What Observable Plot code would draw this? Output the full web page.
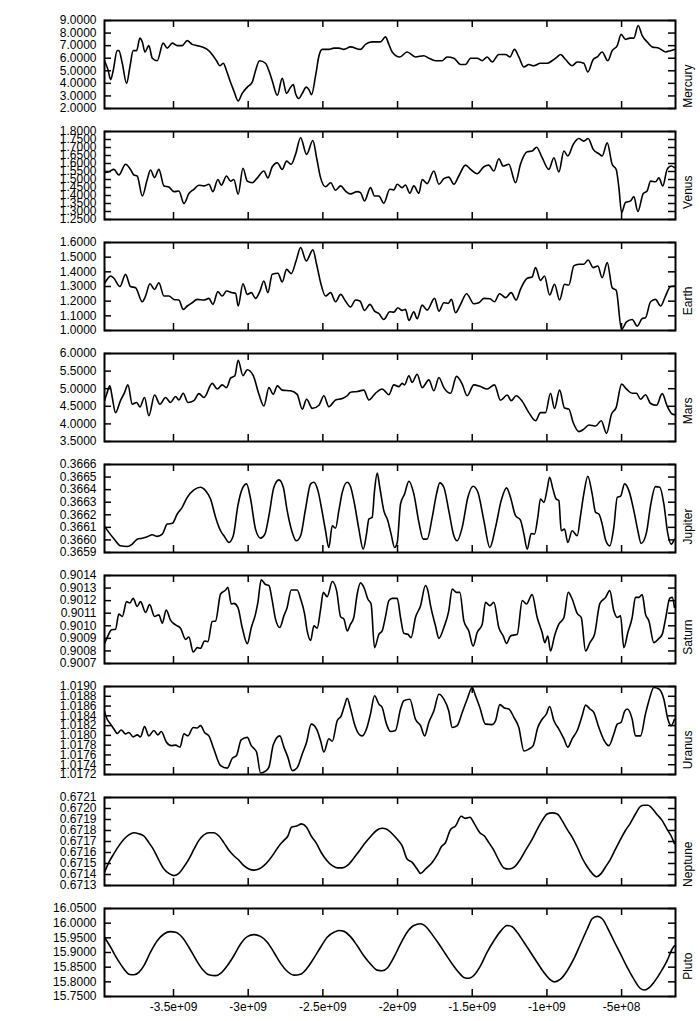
<!DOCTYPE html>
<html><head><meta charset="utf-8">
<script src="https://cdn.jsdelivr.net/npm/d3@7"></script>
<script src="https://cdn.jsdelivr.net/npm/@observablehq/plot@0.6"></script>
<style>body{margin:0;background:#fff}#chart svg{display:block}</style>
</head><body><div id="chart"></div>
<script>
// time in millions of years (negative = past), values per planet
const planetNames = ["Mercury","Venus","Earth","Mars","Jupiter","Saturn","Uranus","Neptune","Pluto"];
const xTickMyr = [-3500,-3000,-2500,-2000,-1500,-1000,-500];
const xDomainMyr = [-3962,-139];

const mercuryTicks = [2,3,4,5,6,7,8,9];
const venusTicks = [1.25,1.3,1.35,1.4,1.45,1.5,1.55,1.6,1.65,1.7,1.75,1.8];
const earthTicks = [1.0,1.1,1.2,1.3,1.4,1.5,1.6];
const marsTicks = [3.5,4.0,4.5,5.0,5.5,6.0];
const jupiterTicks = [0.3659,0.3660,0.3661,0.3662,0.3663,0.3664,0.3665,0.3666];
const saturnTicks = [0.9007,0.9008,0.9009,0.9010,0.9011,0.9012,0.9013,0.9014];
const uranusTicks = [1.0172,1.0174,1.0176,1.0178,1.0180,1.0182,1.0184,1.0186,1.0188,1.0190];
const neptuneTicks = [0.6713,0.6714,0.6715,0.6716,0.6717,0.6718,0.6719,0.6720,0.6721];
const plutoTicks = [15.75,15.80,15.85,15.90,15.95,16.00,16.05];

const mercury = [[-3962,5.8],[-3939,5.1],[-3921,4.3],[-3904,5.0],[-3877,6.6],[-3866,6.6],[-3843,5.6],[-3814,4.0],[-3792,5.3],[-3770,6.6],[-3747,6.6],[-3725,7.6],[-3709,7.3],[-3691,6.5],[-3665,7.0],[-3642,6.0],[-3609,5.8],[-3569,7.2],[-3542,6.8],[-3508,7.2],[-3475,7.0],[-3442,7.0],[-3408,7.4],[-3375,7.1],[-3341,7.0],[-3308,6.9],[-3274,6.7],[-3241,6.3],[-3212,5.8],[-3189,5.4],[-3167,5.6],[-3145,5.0],[-3122,4.2],[-3096,3.4],[-3067,2.6],[-3040,3.2],[-3006,3.7],[-2973,4.1],[-2951,5.0],[-2924,5.8],[-2884,5.6],[-2861,5.0],[-2839,4.2],[-2805,3.05],[-2772,4.4],[-2743,3.2],[-2721,3.6],[-2698,3.9],[-2683,3.2],[-2660,2.8],[-2638,3.2],[-2611,3.7],[-2593,3.5],[-2576,3.1],[-2549,4.6],[-2526,6.2],[-2504,6.7],[-2460,6.7],[-2426,6.8],[-2393,6.8],[-2359,6.7],
[-2315,6.9],[-2248,6.7],[-2215,7.1],[-2170,7.3],[-2114,7.3],[-2081,7.7],[-2058,7.1],[-2036,6.5],[-1985,6.1],[-1936,6.5],[-1880,6.1],[-1824,6.2],[-1790,6.0],[-1746,5.8],[-1701,5.8],[-1668,6.1],[-1623,6.0],[-1578,5.5],[-1545,5.5],[-1511,6.0],[-1467,6.0],[-1433,5.8],[-1400,6.1],[-1366,5.7],[-1322,6.3],[-1277,6.3],[-1248,6.1],[-1217,6.7],[-1188,6.1],[-1154,5.3],[-1121,5.5],[-1087,5.4],[-1043,5.6],[-998,5.6],[-965,5.8],[-931,6.1],[-909,6.3],[-875,5.9],[-831,5.4],[-797,5.7],[-753,5.6],[-726,4.9],[-690,5.9],[-663,6.1],[-630,6.5],[-592,5.8],[-563,6.6],[-529,7.0],[-503,7.9],[-474,7.5],[-445,7.6],[-418,7.6],[-389,8.6],[-362,7.8],[-329,7.3],[-295,6.9],[-250,6.8],[-206,6.5],[-172,6.6],[-146,6.7]];

const venus = [[-3962,1.543],[-3933,1.549],[-3899,1.563],[-3866,1.528],[-3821,1.595],[-3788,1.563],[-3765,1.528],[-3743,1.522],[-3709,1.397],[-3676,1.50],[-3654,1.559],[-3627,1.512],[-3598,1.563],[-3564,1.46],[-3531,1.453],[-3497,1.424],[-3464,1.428],[-3430,1.35],[-3397,1.412],[-3363,1.439],[-3330,1.464],[-3296,1.46],[-3263,1.47],[-3236,1.424],[-3203,1.50],[-3180,1.464],[-3145,1.522],[-3118,1.49],[-3096,1.50],[-3067,1.408],[-3035,1.57],[-3006,1.49],[-2973,1.48],[-2939,1.51],[-2895,1.553],[-2868,1.51],[-2839,1.58],[-2805,1.605],[-2772,1.563],[-2743,1.615],[-2712,1.595],[-2683,1.657],[-2649,1.761],[-2609,1.657],[-2567,1.744],[-2542,1.636],[-2515,1.51],[-2482,1.455],[-2448,1.48],[-2415,1.433],[-2381,1.46],[-2348,1.428],
[-2315,1.41],[-2270,1.424],[-2248,1.418],[-2221,1.366],[-2181,1.449],[-2154,1.397],[-2125,1.397],[-2092,1.352],[-2052,1.439],[-2025,1.435],[-2002,1.47],[-1969,1.449],[-1947,1.466],[-1918,1.414],[-1891,1.46],[-1857,1.414],[-1835,1.50],[-1802,1.474],[-1757,1.553],[-1723,1.47],[-1690,1.505],[-1657,1.515],[-1623,1.47],[-1590,1.522],[-1545,1.59],[-1511,1.563],[-1467,1.536],[-1422,1.58],[-1389,1.59],[-1355,1.553],[-1322,1.63],[-1293,1.584],[-1255,1.595],[-1210,1.48],[-1177,1.595],[-1132,1.673],[-1099,1.678],[-1069,1.702],[-1032,1.636],[-987,1.563],[-953,1.636],[-920,1.547],[-886,1.678],[-860,1.647],[-824,1.719],[-786,1.756],[-753,1.74],[-724,1.756],[-690,1.688],[-652,1.661],[-630,1.647],[-596,1.729],[-563,1.595],[-536,1.563],[-518,1.449],[-500,1.294],[-474,1.356],[-440,1.366],[-418,1.393],[-391,1.30],[-355,1.412],[-329,1.428],[-306,1.49],[-273,1.486],[-250,1.51],[-224,1.46],[-195,1.563],[-168,1.584],[-146,1.574]];

const earth = [[-3962,1.319],[-3939,1.356],[-3921,1.372],[-3899,1.356],[-3859,1.30],[-3821,1.383],[-3788,1.30],[-3754,1.292],[-3709,1.196],[-3687,1.235],[-3658,1.319],[-3627,1.28],[-3598,1.326],[-3564,1.235],[-3531,1.235],[-3497,1.212],[-3464,1.208],[-3435,1.144],[-3408,1.167],[-3375,1.189],[-3341,1.212],[-3296,1.208],[-3263,1.219],[-3236,1.178],[-3203,1.265],[-3174,1.235],[-3145,1.269],[-3107,1.258],[-3084,1.253],[-3067,1.167],[-3035,1.319],[-3006,1.246],[-2979,1.258],[-2951,1.219],[-2921,1.269],[-2895,1.338],[-2868,1.258],[-2839,1.383],[-2801,1.39],[-2772,1.331],[-2743,1.417],[-2712,1.388],[-2678,1.479],[-2649,1.566],[-2611,1.475],[-2567,1.55],[-2542,1.452],[-2515,1.326],[-2482,1.235],[-2448,1.258],[-2415,1.196],[-2381,1.246],[-2348,1.20],
[-2315,1.16],[-2281,1.208],[-2252,1.201],[-2221,1.137],[-2185,1.178],[-2154,1.132],[-2125,1.116],[-2092,1.075],[-2052,1.128],[-2025,1.125],[-1998,1.155],[-1969,1.137],[-1947,1.144],[-1924,1.068],[-1891,1.128],[-1869,1.08],[-1835,1.173],[-1802,1.139],[-1752,1.219],[-1723,1.132],[-1690,1.189],[-1661,1.185],[-1639,1.212],[-1612,1.121],[-1578,1.178],[-1538,1.251],[-1489,1.182],[-1456,1.189],[-1422,1.219],[-1382,1.217],[-1351,1.196],[-1317,1.251],[-1277,1.224],[-1239,1.258],[-1206,1.208],[-1177,1.281],[-1132,1.356],[-1099,1.365],[-1076,1.429],[-1043,1.342],[-1016,1.372],[-982,1.242],[-949,1.315],[-915,1.208],[-882,1.315],[-853,1.31],[-820,1.44],[-786,1.452],[-753,1.452],[-724,1.481],[-690,1.429],[-659,1.44],[-630,1.36],[-596,1.463],[-563,1.292],[-536,1.274],[-500,1.007],[-467,1.059],[-429,1.075],[-395,1.03],[-362,1.082],[-340,1.087],[-306,1.196],[-273,1.212],[-239,1.167],[-206,1.235],[-172,1.30],[-146,1.303]];

const mars = [[-3962,4.66],[-3948,4.84],[-3926,5.08],[-3910,4.75],[-3888,4.32],[-3855,4.66],[-3828,4.89],[-3805,5.11],[-3776,4.56],[-3747,4.61],[-3725,4.48],[-3694,4.75],[-3665,4.23],[-3627,4.82],[-3591,4.56],[-3553,4.75],[-3520,4.61],[-3486,4.78],[-3464,4.68],[-3435,4.87],[-3404,4.61],[-3363,4.66],[-3330,4.86],[-3296,4.75],[-3241,5.15],[-3207,4.99],[-3174,5.11],[-3145,5.03],[-3118,5.30],[-3089,5.37],[-3067,5.81],[-3035,5.37],[-3006,5.54],[-2966,5.37],[-2928,4.84],[-2895,4.51],[-2861,5.03],[-2832,4.84],[-2805,5.08],[-2772,4.96],[-2716,4.94],[-2672,4.84],[-2638,4.42],[-2609,4.70],[-2571,4.44],[-2526,4.53],[-2493,4.80],[-2460,4.49],[-2415,4.68],[-2370,4.72],[-2337,4.80],
[-2315,4.9],[-2270,4.92],[-2226,4.96],[-2192,4.68],[-2148,4.87],[-2103,4.99],[-2058,4.83],[-2025,5.11],[-1991,5.06],[-1969,5.15],[-1953,5.11],[-1924,5.37],[-1902,5.18],[-1869,5.41],[-1835,5.03],[-1790,5.25],[-1757,4.94],[-1723,5.32],[-1690,5.03],[-1645,4.87],[-1605,5.35],[-1567,5.13],[-1534,4.80],[-1489,5.11],[-1444,5.06],[-1400,4.99],[-1351,5.11],[-1311,4.67],[-1266,4.82],[-1239,4.66],[-1206,4.80],[-1165,4.64],[-1121,4.32],[-1076,4.09],[-1043,4.32],[-1009,4.32],[-976,4.87],[-949,4.44],[-915,4.96],[-882,4.45],[-853,4.42],[-824,4.04],[-786,3.78],[-753,3.85],[-719,3.97],[-674,3.94],[-636,4.09],[-601,3.73],[-567,4.28],[-536,4.47],[-500,5.13],[-467,4.99],[-429,4.87],[-400,4.87],[-373,4.70],[-340,4.83],[-306,4.58],[-266,4.53],[-228,4.86],[-195,4.51],[-161,4.28],[-146,4.26]];

const jupiter = [[-3962,0.36611],[-3933,0.36606],[-3899,0.36601],[-3855,0.365953],[-3810,0.365948],[-3776,0.365967],[-3743,0.366006],[-3709,0.366014],[-3676,0.366025],[-3642,0.366041],[-3609,0.366028],[-3575,0.366046],[-3542,0.366126],[-3508,0.366132],[-3475,0.366206],[-3442,0.366259],[-3408,0.366339],[-3363,0.366398],[-3319,0.366419],[-3285,0.366392],[-3252,0.366326],[-3218,0.366179],[-3185,0.366073],[-3158,0.366025],[-3129,0.36598],[-3100,0.366033],[-3069,0.366273],[-3040,0.366406],[-3011,0.366446],[-2984,0.366326],[-2951,0.366086],[-2917,0.366014],[-2888,0.366046],[-2861,0.366193],[-2828,0.366419],[-2794,0.366478],[-2765,0.366419],[-2739,0.366233],[-2705,0.36606],[-2678,0.365993],[-2649,0.366033],[-2616,0.366246],[-2582,0.366446],[-2560,0.366459],[-2533,0.366392],[-2504,0.366219],[-2482,0.366073],[-2460,0.36594],[-2437,0.366113],[-2415,0.366094],[-2393,0.366233],[-2370,0.366379],[-2337,0.366459],
[-2315,0.366425],[-2288,0.366286],[-2259,0.366086],[-2230,0.365927],[-2208,0.366046],[-2192,0.366166],[-2170,0.366179],[-2154,0.366392],[-2136,0.366531],[-2119,0.366419],[-2092,0.366233],[-2065,0.366153],[-2043,0.366046],[-2020,0.36594],[-2002,0.36598],[-1980,0.366286],[-1953,0.366366],[-1924,0.366467],[-1891,0.366366],[-1857,0.36614],[-1828,0.366006],[-1802,0.366006],[-1768,0.366179],[-1739,0.366366],[-1717,0.366454],[-1690,0.366419],[-1657,0.366233],[-1623,0.366033],[-1601,0.365993],[-1567,0.3661],[-1529,0.366339],[-1494,0.366427],[-1462,0.366379],[-1422,0.366153],[-1382,0.36594],[-1344,0.3661],[-1306,0.366313],[-1270,0.366414],[-1244,0.366339],[-1210,0.366193],[-1177,0.366158],[-1154,0.366046],[-1132,0.365927],[-1105,0.366051],[-1083,0.366046],[-1061,0.366179],[-1043,0.366326],[-1020,0.366299],[-998,0.366406],[-982,0.366499],[-960,0.366406],[-938,0.366326],[-920,0.366313],[-904,0.366073],[-882,0.366086],[-860,0.36598],[-831,0.366073],[-797,0.366033],[-775,0.366193],[-753,0.366366],[-726,0.366507],[-697,0.366366],[-674,0.366219],[-652,0.366206],[-630,0.366126],[-607,0.366],[-579,0.365953],[-552,0.3661],[-529,0.366339],[-507,0.366347],[-480,0.366446],[-451,0.366392],[-418,0.366233],[-391,0.366073],[-369,0.365972],[-333,0.36606],[-306,0.366273],[-273,0.366424],[-244,0.366419],[-217,0.366286],[-190,0.366046],[-168,0.365967],[-146,0.366006]];

const saturn = [[-3962,0.900858],[-3939,0.900919],[-3917,0.900967],[-3888,0.900973],[-3866,0.901093],[-3843,0.901074],[-3814,0.901192],[-3792,0.901181],[-3770,0.901218],[-3743,0.901154],[-3721,0.901192],[-3687,0.901106],[-3660,0.901168],[-3627,0.901074],[-3598,0.901087],[-3575,0.901021],[-3549,0.901125],[-3520,0.901045],[-3486,0.901007],[-3453,0.900981],[-3419,0.900892],[-3397,0.900911],[-3368,0.900791],[-3341,0.900826],[-3319,0.900821],[-3292,0.900879],[-3270,0.900874],[-3241,0.901034],[-3218,0.901039],[-3185,0.901253],[-3151,0.901285],[-3136,0.901306],[-3113,0.901173],[-3096,0.901178],[-3069,0.901146],[-3040,0.900986],[-3006,0.900858],[-2979,0.900986],[-2951,0.901093],[-2935,0.901186],[-2913,0.901365],[-2884,0.901328],[-2861,0.90132],[-2839,0.9012],[-2817,0.901053],[-2788,0.900986],[-2761,0.901079],[-2739,0.901146],[-2712,0.901285],[-2672,0.901285],[-2649,0.901213],[-2622,0.901093],[-2605,0.900959],[-2582,0.900884],[-2560,0.900999],[-2538,0.900981],[-2515,0.901133],[-2497,0.901266],[-2471,0.901232],[-2437,0.901352],[-2408,0.90128],[-2381,0.901071],[-2359,0.901053],[-2337,0.900959],
[-2315,0.901013],[-2293,0.901066],[-2270,0.901253],[-2248,0.901341],[-2221,0.901293],[-2199,0.901213],[-2177,0.901173],[-2154,0.900826],[-2125,0.900932],[-2103,0.900959],[-2081,0.901071],[-2058,0.9012],[-2036,0.901218],[-2002,0.901218],[-1980,0.901066],[-1958,0.90094],[-1931,0.900932],[-1909,0.900906],[-1880,0.901066],[-1846,0.90116],[-1813,0.90132],[-1797,0.90128],[-1779,0.90116],[-1746,0.901],[-1723,0.9009],[-1690,0.900986],[-1657,0.901119],[-1634,0.901293],[-1605,0.901266],[-1583,0.901266],[-1556,0.901039],[-1523,0.900959],[-1494,0.900839],[-1467,0.900946],[-1433,0.901013],[-1411,0.901186],[-1382,0.90116],[-1355,0.901186],[-1322,0.900986],[-1293,0.900919],[-1270,0.90086],[-1244,0.900919],[-1199,0.900932],[-1165,0.9012],[-1137,0.901173],[-1099,0.901248],[-1065,0.901066],[-1032,0.900946],[-1014,0.900866],[-994,0.900919],[-976,0.900799],[-949,0.900919],[-920,0.901013],[-886,0.901066],[-857,0.901266],[-831,0.901213],[-797,0.901098],[-770,0.901066],[-741,0.900799],[-712,0.900866],[-681,0.900932],[-645,0.901178],[-607,0.901226],[-579,0.90128],[-552,0.901119],[-529,0.901066],[-507,0.901079],[-485,0.900826],[-458,0.900946],[-429,0.901066],[-407,0.901226],[-384,0.901226],[-362,0.901248],[-340,0.901093],[-317,0.901039],[-284,0.900866],[-250,0.9009],[-228,0.900932],[-206,0.901053],[-177,0.90122],[-161,0.901226],[-146,0.901146]];

const uranus = [[-3962,1.01849],[-3944,1.01833],[-3921,1.01823],[-3899,1.01813],[-3877,1.01804],[-3850,1.01811],[-3821,1.01803],[-3799,1.01806],[-3770,1.01797],[-3743,1.01801],[-3721,1.01797],[-3694,1.01818],[-3665,1.01799],[-3631,1.0181],[-3605,1.01801],[-3582,1.01808],[-3547,1.01786],[-3515,1.01779],[-3486,1.0178],[-3457,1.01776],[-3430,1.01803],[-3404,1.01799],[-3368,1.01816],[-3341,1.01815],[-3319,1.0182],[-3292,1.01806],[-3263,1.01799],[-3230,1.01772],[-3185,1.01738],[-3140,1.01733],[-3107,1.01753],[-3078,1.01759],[-3047,1.01791],[-3006,1.01796],[-2979,1.01779],[-2944,1.01766],[-2917,1.01723],[-2884,1.01727],[-2861,1.01735],[-2832,1.01781],[-2788,1.01799],[-2761,1.01776],[-2734,1.01755],[-2705,1.01728],[-2672,1.01734],[-2638,1.01762],[-2609,1.01786],[-2578,1.01823],[-2542,1.01813],[-2515,1.01789],[-2493,1.01766],[-2460,1.01793],[-2437,1.01788],[-2404,1.0183],[-2377,1.0184],[-2355,1.01861],[-2337,1.01876],
[-2315,1.01855],[-2288,1.01823],[-2259,1.01803],[-2237,1.01799],[-2208,1.01813],[-2181,1.01844],[-2154,1.01881],[-2125,1.01864],[-2103,1.01857],[-2074,1.01823],[-2047,1.01808],[-2014,1.0181],[-1980,1.01854],[-1958,1.01871],[-1918,1.01874],[-1880,1.01833],[-1846,1.0182],[-1819,1.01799],[-1790,1.01827],[-1757,1.0185],[-1723,1.01884],[-1690,1.01874],[-1657,1.0185],[-1634,1.01816],[-1601,1.0182],[-1567,1.01847],[-1534,1.01874],[-1500,1.01898],[-1478,1.01881],[-1449,1.01857],[-1411,1.01823],[-1366,1.01822],[-1344,1.0183],[-1315,1.01863],[-1284,1.01856],[-1255,1.01854],[-1221,1.01837],[-1188,1.01816],[-1154,1.01768],[-1121,1.01772],[-1092,1.01779],[-1061,1.01816],[-1032,1.01833],[-1003,1.01844],[-982,1.01859],[-953,1.0183],[-920,1.01813],[-886,1.01793],[-860,1.01776],[-831,1.01793],[-797,1.0181],[-764,1.0184],[-741,1.01862],[-712,1.01854],[-686,1.01847],[-652,1.01816],[-619,1.01791],[-585,1.01779],[-552,1.01803],[-529,1.01823],[-503,1.01827],[-480,1.01849],[-462,1.01854],[-429,1.01833],[-407,1.01799],[-373,1.01799],[-340,1.01844],[-317,1.01871],[-284,1.01898],[-250,1.01895],[-217,1.01874],[-190,1.01833],[-168,1.0182],[-146,1.01833]];

const neptune = [[-3962,0.67142],[-3933,0.67151],[-3899,0.67159],[-3866,0.67166],[-3832,0.67172],[-3799,0.67176],[-3765,0.67178],[-3732,0.67177],[-3698,0.67175],[-3665,0.67169],[-3631,0.67162],[-3598,0.67153],[-3564,0.67145],[-3531,0.67141],[-3497,0.67139],[-3464,0.67141],[-3430,0.67147],[-3397,0.67154],[-3363,0.67163],[-3330,0.67171],[-3296,0.67176],[-3263,0.67178],[-3230,0.67178],[-3196,0.67175],[-3163,0.67169],[-3129,0.67162],[-3096,0.67157],[-3062,0.67153],[-3029,0.67148],[-2995,0.67145],[-2962,0.67144],[-2928,0.67145],[-2895,0.67148],[-2861,0.67153],[-2828,0.67159],[-2794,0.67166],[-2761,0.67171],[-2734,0.67175],[-2710,0.67183],[-2676,0.67184],[-2643,0.67186],[-2609,0.67183],[-2578,0.67175],[-2542,0.67168],[-2511,0.6716],[-2475,0.67153],[-2437,0.67148],[-2404,0.67146],[-2370,0.67146],[-2337,0.67148],
[-2315,0.67151],[-2281,0.67157],[-2248,0.67163],[-2215,0.67169],[-2177,0.67175],[-2141,0.6718],[-2103,0.67182],[-2069,0.67181],[-2036,0.67177],[-2002,0.67172],[-1969,0.67166],[-1936,0.67154],[-1902,0.67151],[-1869,0.67145],[-1846,0.67141],[-1813,0.67145],[-1768,0.67151],[-1730,0.67159],[-1708,0.67165],[-1679,0.67169],[-1645,0.67181],[-1612,0.67184],[-1574,0.67193],[-1545,0.67191],[-1516,0.67192],[-1485,0.67186],[-1449,0.67178],[-1418,0.67175],[-1389,0.67169],[-1355,0.67162],[-1322,0.67153],[-1288,0.67146],[-1255,0.67145],[-1217,0.67147],[-1177,0.67154],[-1143,0.67162],[-1099,0.67172],[-1065,0.67181],[-1032,0.67189],[-998,0.67195],[-965,0.67196],[-931,0.67195],[-898,0.67189],[-864,0.67181],[-831,0.67174],[-797,0.67165],[-764,0.67155],[-730,0.67147],[-697,0.67141],[-668,0.67138],[-636,0.67141],[-607,0.67147],[-574,0.67154],[-541,0.67163],[-507,0.67172],[-474,0.6718],[-440,0.67187],[-407,0.67195],[-373,0.67202],[-351,0.67203],[-322,0.67203],[-295,0.672],[-266,0.67195],[-228,0.67189],[-195,0.67181],[-168,0.67175],[-146,0.67168]];

const pluto = [[-3962,15.952],[-3921,15.918],[-3877,15.878],[-3832,15.844],[-3799,15.826],[-3765,15.824],[-3732,15.832],[-3698,15.855],[-3654,15.901],[-3609,15.940],[-3564,15.963],[-3520,15.971],[-3486,15.969],[-3442,15.952],[-3397,15.918],[-3352,15.878],[-3308,15.844],[-3263,15.824],[-3218,15.821],[-3185,15.829],[-3140,15.855],[-3096,15.889],[-3051,15.929],[-3006,15.954],[-2962,15.961],[-2917,15.955],[-2872,15.935],[-2828,15.901],[-2783,15.863],[-2739,15.836],[-2694,15.823],[-2649,15.826],[-2605,15.847],[-2560,15.881],[-2515,15.918],[-2471,15.952],[-2426,15.969],[-2393,15.975],[-2359,15.972],
[-2315,15.954],[-2270,15.923],[-2226,15.889],[-2181,15.861],[-2136,15.840],[-2103,15.838],[-2065,15.849],[-2025,15.883],[-1980,15.929],[-1936,15.969],[-1891,15.992],[-1846,15.998],[-1806,15.986],[-1768,15.961],[-1723,15.929],[-1679,15.895],[-1634,15.861],[-1590,15.832],[-1556,15.815],[-1523,15.812],[-1485,15.824],[-1444,15.855],[-1400,15.901],[-1355,15.940],[-1311,15.972],[-1266,15.992],[-1232,15.988],[-1199,15.969],[-1154,15.935],[-1110,15.901],[-1065,15.866],[-1020,15.832],[-976,15.807],[-947,15.800],[-909,15.809],[-864,15.838],[-820,15.878],[-775,15.929],[-730,15.980],[-697,16.015],[-663,16.023],[-630,16.015],[-596,15.986],[-552,15.940],[-507,15.895],[-462,15.849],[-418,15.809],[-378,15.779],[-346,15.772],[-317,15.779],[-284,15.798],[-239,15.832],[-195,15.872],[-161,15.912],[-146,15.923]];

const seriesList = [mercury, venus, earth, mars, jupiter, saturn, uranus, neptune, pluto];
const tickList = [mercuryTicks, venusTicks, earthTicks, marsTicks, jupiterTicks, saturnTicks, uranusTicks, neptuneTicks, plutoTicks];

const xTicks = xTickMyr.map(d => d * 1e6);
const xDomain = xDomainMyr.map(d => d * 1e6);

function sci(v) {
  if (v === 0) return "0";
  const e = Math.floor(Math.log10(Math.abs(v)) + 1e-9);
  const m = +(v / Math.pow(10, e)).toFixed(3);
  return `${m}e${e < 0 ? "-" : "+"}${String(Math.abs(e)).padStart(2, "0")}`;
}

const W = 700, ML = 104, MR = 25, MT = 20, PH = 88, TICK = 7;
const innerW = W - ML - MR;
const container = document.getElementById("chart");

planetNames.forEach((name, i) => {
  const isLast = i === planetNames.length - 1;
  const MB = isLast ? 25 : 3;
  const ticks = tickList[i];
  const rows = seriesList[i].map(([t, v]) => ({t: t * 1e6, v}));
  const svg = Plot.plot({
    width: W,
    height: MT + PH + MB,
    marginLeft: ML, marginRight: MR, marginTop: MT, marginBottom: MB,
    style: {fontFamily: "'Liberation Sans', Arial, sans-serif", fontSize: "12px", color: "#000", background: "#fff", overflow: "visible"},
    x: {domain: xDomain, label: null, axis: isLast ? undefined : null},
    y: {domain: [ticks[0], ticks[ticks.length - 1]], label: null},
    marks: [
      Plot.line(rows, {x: "t", y: "v", stroke: "#000", strokeWidth: 1.6, curve: "monotone-x", clip: true}),
      Plot.tickY(ticks, {y: d => d, insetRight: innerW - TICK, stroke: "#000", strokeWidth: 1.5}),
      Plot.tickY(ticks, {y: d => d, insetLeft: innerW - TICK, stroke: "#000", strokeWidth: 1.5}),
      Plot.tickX(xTicks, {x: d => d, insetBottom: PH - TICK, stroke: "#000", strokeWidth: 1.5}),
      Plot.tickX(xTicks, {x: d => d, insetTop: PH - TICK, stroke: "#000", strokeWidth: 1.5}),
      Plot.axisY(ticks, {anchor: "left", tickSize: 0, tickPadding: 8, tickFormat: d3.format(".4f"), label: null}),
      isLast ? Plot.axisX(xTicks, {anchor: "bottom", tickSize: 0, tickPadding: 6, tickFormat: sci, label: null}) : null,
      Plot.frame({stroke: "#000", strokeWidth: 2}),
      Plot.text([name], {frameAnchor: "right", rotate: -90, dx: 13, fontSize: 12, fill: "#000"})
    ]
  });
  container.appendChild(svg);
});
</script>
</body></html>
